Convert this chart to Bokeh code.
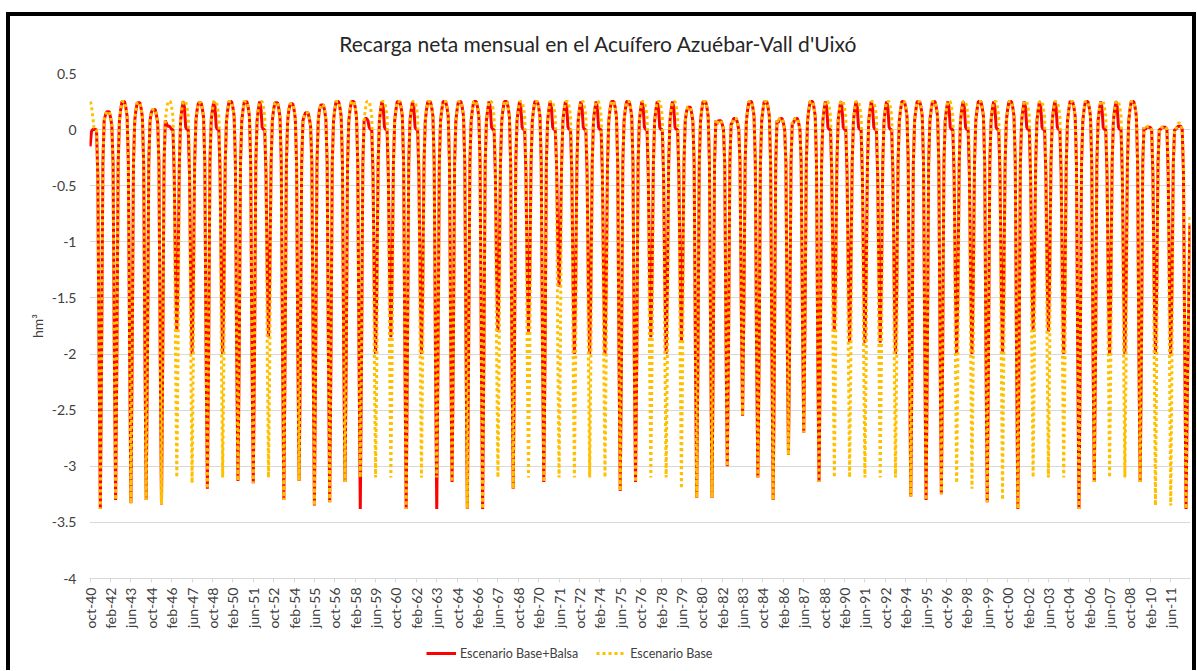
from bokeh.plotting import figure
from bokeh.models import (ColumnDataSource, FixedTicker, Legend, LegendItem,
                          CustomJSTickFormatter, Range1d)
from bokeh.core.properties import value
from bokeh.layouts import column
from bokeh.embed import file_html
from bokeh.resources import INLINE

title_text = "Recarga neta mensual en el Acuífero Azuébar-Vall d'Uixó"
y_label = "hm³"
series_names = ["Escenario Base+Balsa", "Escenario Base"]

tick_labels = ["oct-40", "feb-42", "jun-43", "oct-44", "feb-46", "jun-47", "oct-48", "feb-50",
               "jun-51", "oct-52", "feb-54", "jun-55", "oct-56", "feb-58", "jun-59", "oct-60",
               "feb-62", "jun-63", "oct-64", "feb-66", "jun-67", "oct-68", "feb-70", "jun-71",
               "oct-72", "feb-74", "jun-75", "oct-76", "feb-78", "jun-79", "oct-80", "feb-82",
               "jun-83", "oct-84", "feb-86", "jun-87", "oct-88", "feb-90", "jun-91", "oct-92",
               "feb-94", "jun-95", "oct-96", "feb-98", "jun-99", "oct-00", "feb-02", "jun-03",
               "oct-04", "feb-06", "jun-07", "oct-08", "feb-10", "jun-11"]
tick_step = 16

# monthly values, one row per hydrological year (oct ... sep), hm3
red_rows = [
    [-0.15, -0.02, 0.0, 0.0, 0.0, 0.0, -0.4, -2.0, -3.38, -2.0, -0.3, 0.08],   # 1940-41
    [0.13, 0.16, 0.16, 0.16, 0.11, 0.04, -0.3, -2.0, -3.30, -2.0, -0.3, 0.08],  # 1941-42
    [0.18, 0.25, 0.25, 0.25, 0.20, 0.12, -0.3, -2.0, -3.33, -2.0, -0.3, 0.08],  # 1942-43
    [0.18, 0.24, 0.24, 0.24, 0.19, 0.11, -0.3, -2.0, -3.30, -2.0, -0.3, 0.08],  # 1943-44
    [0.15, 0.18, 0.18, 0.18, 0.13, 0.06, -0.3, -2.0, -3.34, -2.0, -0.3, 0.08],  # 1944-45
    [0.05, 0.03, 0.03, 0.02, 0.0, 0.0, -0.4, -1.3, -1.80, -1.3, -0.3, 0.08],    # 1945-46
    [0.18, 0.25, 0.20, 0.02, 0.0, 0.0, -0.4, -1.4, -2.00, -1.4, -0.3, 0.08],    # 1946-47
    [0.18, 0.24, 0.24, 0.24, 0.19, 0.11, -0.3, -2.0, -3.20, -2.0, -0.3, 0.08],  # 1947-48
    [0.18, 0.25, 0.20, 0.02, 0.0, 0.0, -0.4, -1.4, -2.00, -1.4, -0.3, 0.08],    # 1948-49
    [0.18, 0.25, 0.25, 0.25, 0.20, 0.12, -0.3, -2.0, -3.13, -2.0, -0.3, 0.08],  # 1949-50
    [0.18, 0.25, 0.25, 0.25, 0.20, 0.12, -0.3, -2.0, -3.15, -2.0, -0.3, 0.08],  # 1950-51
    [0.18, 0.25, 0.20, 0.02, 0.0, 0.0, -0.4, -1.3, -1.85, -1.3, -0.3, 0.08],    # 1951-52
    [0.18, 0.24, 0.24, 0.24, 0.19, 0.11, -0.3, -2.0, -3.30, -2.0, -0.3, 0.08],  # 1952-53
    [0.18, 0.23, 0.23, 0.23, 0.18, 0.10, -0.3, -2.0, -3.13, -2.0, -0.3, 0.08],  # 1953-54
    [0.12, 0.15, 0.15, 0.15, 0.10, 0.03, -0.3, -2.0, -3.35, -2.0, -0.3, 0.08],  # 1954-55
    [0.18, 0.22, 0.22, 0.22, 0.17, 0.09, -0.3, -2.0, -3.32, -2.0, -0.3, 0.08],  # 1955-56
    [0.18, 0.25, 0.25, 0.25, 0.20, 0.12, -0.3, -2.0, -3.14, -2.0, -0.3, 0.08],  # 1956-57
    [0.18, 0.25, 0.25, 0.25, 0.20, 0.12, -0.3, -2.0, -3.38, -2.0, -0.3, 0.08],  # 1957-58
    [0.10, 0.10, 0.08, 0.02, 0.0, 0.0, -0.4, -1.4, -2.00, -1.4, -0.3, 0.08],    # 1958-59
    [0.18, 0.25, 0.20, 0.02, 0.0, 0.0, -0.4, -1.3, -1.85, -1.3, -0.3, 0.08],    # 1959-60
    [0.18, 0.25, 0.25, 0.25, 0.20, 0.12, -0.3, -2.0, -3.38, -2.0, -0.3, 0.08],  # 1960-61
    [0.18, 0.25, 0.20, 0.02, 0.0, 0.0, -0.4, -1.4, -2.00, -1.4, -0.3, 0.08],    # 1961-62
    [0.18, 0.25, 0.25, 0.25, 0.20, 0.12, -0.3, -2.0, -3.38, -2.0, -0.3, 0.08],  # 1962-63
    [0.18, 0.25, 0.25, 0.25, 0.20, 0.12, -0.3, -2.0, -3.14, -2.0, -0.3, 0.08],  # 1963-64
    [0.18, 0.25, 0.25, 0.25, 0.20, 0.12, -0.3, -2.0, -3.38, -2.0, -0.3, 0.08],  # 1964-65
    [0.18, 0.25, 0.25, 0.25, 0.20, 0.12, -0.3, -2.0, -3.38, -2.0, -0.3, 0.08],  # 1965-66
    [0.18, 0.25, 0.20, 0.02, 0.0, 0.0, -0.4, -1.3, -1.80, -1.3, -0.3, 0.08],    # 1966-67
    [0.18, 0.25, 0.25, 0.25, 0.20, 0.12, -0.3, -2.0, -3.20, -2.0, -0.3, 0.08],  # 1967-68
    [0.18, 0.25, 0.20, 0.02, 0.0, 0.0, -0.4, -1.3, -1.80, -1.3, -0.3, 0.08],    # 1968-69
    [0.18, 0.25, 0.25, 0.25, 0.20, 0.12, -0.3, -2.0, -3.14, -2.0, -0.3, 0.08],  # 1969-70
    [0.18, 0.25, 0.20, 0.02, 0.0, 0.0, -0.3, -1.0, -1.40, -1.0, -0.3, 0.08],    # 1970-71
    [0.18, 0.25, 0.20, 0.02, 0.0, 0.0, -0.4, -1.4, -2.00, -1.4, -0.3, 0.08],    # 1971-72
    [0.18, 0.25, 0.20, 0.02, 0.0, 0.0, -0.4, -1.4, -2.00, -1.4, -0.3, 0.08],    # 1972-73
    [0.18, 0.25, 0.20, 0.02, 0.0, 0.0, -0.4, -1.4, -2.00, -1.4, -0.3, 0.08],    # 1973-74
    [0.18, 0.25, 0.25, 0.25, 0.20, 0.12, -0.3, -2.0, -3.22, -2.0, -0.3, 0.08],  # 1974-75
    [0.18, 0.25, 0.25, 0.25, 0.20, 0.12, -0.3, -2.0, -3.14, -2.0, -0.3, 0.08],  # 1975-76
    [0.18, 0.25, 0.20, 0.02, 0.0, 0.0, -0.4, -1.3, -1.85, -1.3, -0.3, 0.08],    # 1976-77
    [0.18, 0.25, 0.20, 0.02, 0.0, 0.0, -0.4, -1.4, -2.00, -1.4, -0.3, 0.08],    # 1977-78
    [0.18, 0.25, 0.20, 0.02, 0.0, 0.0, -0.4, -1.3, -1.90, -1.3, -0.3, 0.08],    # 1978-79
    [0.16, 0.20, 0.20, 0.20, 0.15, 0.07, -0.3, -2.0, -3.28, -2.0, -0.3, 0.08],  # 1979-80
    [0.18, 0.25, 0.25, 0.25, 0.20, 0.12, -0.3, -2.0, -3.28, -2.0, -0.3, 0.08],  # 1980-81
    [0.05, 0.08, 0.08, 0.08, 0.05, 0.0, -0.3, -1.9, -3.00, -1.9, -0.3, 0.05],   # 1981-82
    [0.06, 0.10, 0.10, 0.10, 0.06, 0.0, -0.3, -1.6, -2.55, -1.6, -0.3, 0.08],   # 1982-83
    [0.18, 0.25, 0.25, 0.25, 0.20, 0.12, -0.3, -2.0, -3.10, -2.0, -0.3, 0.08],  # 1983-84
    [0.18, 0.25, 0.25, 0.25, 0.20, 0.12, -0.3, -2.0, -3.30, -2.0, -0.3, 0.08],  # 1984-85
    [0.06, 0.10, 0.10, 0.10, 0.06, 0.0, -0.3, -1.8, -2.90, -1.8, -0.3, 0.06],   # 1985-86
    [0.06, 0.10, 0.10, 0.10, 0.06, 0.0, -0.3, -1.7, -2.70, -1.7, -0.3, 0.08],   # 1986-87
    [0.18, 0.25, 0.25, 0.25, 0.20, 0.12, -0.3, -2.0, -3.14, -2.0, -0.3, 0.08],  # 1987-88
    [0.18, 0.25, 0.20, 0.02, 0.0, 0.0, -0.4, -1.3, -1.80, -1.3, -0.3, 0.08],    # 1988-89
    [0.18, 0.25, 0.20, 0.02, 0.0, 0.0, -0.4, -1.3, -1.90, -1.3, -0.3, 0.08],    # 1989-90
    [0.18, 0.25, 0.20, 0.02, 0.0, 0.0, -0.4, -1.3, -1.90, -1.3, -0.3, 0.08],    # 1990-91
    [0.18, 0.25, 0.20, 0.02, 0.0, 0.0, -0.4, -1.3, -1.90, -1.3, -0.3, 0.08],    # 1991-92
    [0.18, 0.25, 0.20, 0.02, 0.0, 0.0, -0.4, -1.4, -2.00, -1.4, -0.3, 0.08],    # 1992-93
    [0.18, 0.25, 0.25, 0.25, 0.20, 0.12, -0.3, -2.0, -3.27, -2.0, -0.3, 0.08],  # 1993-94
    [0.18, 0.25, 0.25, 0.25, 0.20, 0.12, -0.3, -2.0, -3.30, -2.0, -0.3, 0.08],  # 1994-95
    [0.18, 0.25, 0.25, 0.25, 0.20, 0.12, -0.3, -2.0, -3.25, -2.0, -0.3, 0.08],  # 1995-96
    [0.18, 0.25, 0.20, 0.02, 0.0, 0.0, -0.4, -1.4, -2.00, -1.4, -0.3, 0.08],    # 1996-97
    [0.18, 0.25, 0.20, 0.02, 0.0, 0.0, -0.4, -1.4, -2.00, -1.4, -0.3, 0.08],    # 1997-98
    [0.18, 0.25, 0.25, 0.25, 0.20, 0.12, -0.3, -2.0, -3.32, -2.0, -0.3, 0.08],  # 1998-99
    [0.18, 0.25, 0.20, 0.02, 0.0, 0.0, -0.4, -1.4, -2.00, -1.4, -0.3, 0.08],    # 1999-00
    [0.18, 0.25, 0.25, 0.25, 0.20, 0.12, -0.3, -2.0, -3.38, -2.0, -0.3, 0.08],  # 2000-01
    [0.18, 0.25, 0.20, 0.02, 0.0, 0.0, -0.4, -1.3, -1.80, -1.3, -0.3, 0.08],    # 2001-02
    [0.18, 0.25, 0.20, 0.02, 0.0, 0.0, -0.4, -1.3, -1.80, -1.3, -0.3, 0.08],    # 2002-03
    [0.18, 0.25, 0.20, 0.02, 0.0, 0.0, -0.4, -1.4, -2.00, -1.4, -0.3, 0.08],    # 2003-04
    [0.18, 0.25, 0.25, 0.25, 0.20, 0.12, -0.3, -2.0, -3.38, -2.0, -0.3, 0.08],  # 2004-05
    [0.18, 0.25, 0.25, 0.25, 0.20, 0.12, -0.3, -2.0, -3.14, -2.0, -0.3, 0.08],  # 2005-06
    [0.18, 0.25, 0.20, 0.02, 0.0, 0.0, -0.4, -1.4, -2.00, -1.4, -0.3, 0.08],    # 2006-07
    [0.18, 0.25, 0.20, 0.02, 0.0, 0.0, -0.4, -1.4, -2.00, -1.4, -0.3, 0.08],    # 2007-08
    [0.18, 0.25, 0.25, 0.25, 0.20, 0.12, -0.3, -2.0, -3.14, -2.0, -0.3, 0.02],  # 2008-09
    [0.0, 0.02, 0.02, 0.02, 0.02, 0.0, -0.4, -1.4, -2.00, -1.4, -0.3, 0.0],     # 2009-10
    [0.0, 0.02, 0.02, 0.02, 0.02, 0.0, -0.4, -1.4, -2.00, -1.4, -0.3, 0.0],     # 2010-11
    [0.0, 0.02, 0.03, 0.03, 0.03, 0.0, -0.4, -2.0, -3.38, -2.4, -1.6, -0.85],   # 2011-12
]

base_rows = [
    [0.25, 0.22, 0.12, 0.02, 0.0, 0.0, -0.4, -2.0, -3.38, -2.0, -0.3, 0.08],   # 1940-41
    [0.13, 0.16, 0.16, 0.16, 0.11, 0.04, -0.3, -2.0, -3.30, -2.0, -0.3, 0.08],  # 1941-42
    [0.18, 0.25, 0.25, 0.25, 0.20, 0.12, -0.3, -2.0, -3.33, -2.0, -0.3, 0.08],  # 1942-43
    [0.18, 0.24, 0.24, 0.24, 0.19, 0.11, -0.3, -2.0, -3.30, -2.0, -0.3, 0.08],  # 1943-44
    [0.15, 0.18, 0.18, 0.18, 0.13, 0.06, -0.3, -2.0, -3.34, -2.0, -0.3, 0.08],  # 1944-45
    [0.18, 0.25, 0.25, 0.25, 0.20, 0.12, -0.3, -2.0, -3.10, -2.0, -0.3, 0.08],  # 1945-46
    [0.18, 0.25, 0.25, 0.25, 0.20, 0.12, -0.3, -2.0, -3.15, -2.0, -0.3, 0.08],  # 1946-47
    [0.18, 0.24, 0.24, 0.24, 0.19, 0.11, -0.3, -2.0, -3.20, -2.0, -0.3, 0.08],  # 1947-48
    [0.18, 0.25, 0.25, 0.25, 0.20, 0.12, -0.3, -2.0, -3.10, -2.0, -0.3, 0.08],  # 1948-49
    [0.18, 0.25, 0.25, 0.25, 0.20, 0.12, -0.3, -2.0, -3.13, -2.0, -0.3, 0.08],  # 1949-50
    [0.18, 0.25, 0.25, 0.25, 0.20, 0.12, -0.3, -2.0, -3.15, -2.0, -0.3, 0.08],  # 1950-51
    [0.18, 0.25, 0.25, 0.25, 0.20, 0.12, -0.3, -2.0, -3.10, -2.0, -0.3, 0.08],  # 1951-52
    [0.18, 0.24, 0.24, 0.24, 0.19, 0.11, -0.3, -2.0, -3.30, -2.0, -0.3, 0.08],  # 1952-53
    [0.18, 0.23, 0.23, 0.23, 0.18, 0.10, -0.3, -2.0, -3.13, -2.0, -0.3, 0.08],  # 1953-54
    [0.12, 0.15, 0.15, 0.15, 0.10, 0.03, -0.3, -2.0, -3.35, -2.0, -0.3, 0.08],  # 1954-55
    [0.18, 0.22, 0.22, 0.22, 0.17, 0.09, -0.3, -2.0, -3.32, -2.0, -0.3, 0.08],  # 1955-56
    [0.18, 0.25, 0.25, 0.25, 0.20, 0.12, -0.3, -2.0, -3.14, -2.0, -0.3, 0.08],  # 1956-57
    [0.18, 0.25, 0.25, 0.25, 0.20, 0.12, -0.3, -2.0, -3.10, -2.0, -0.3, 0.08],  # 1957-58
    [0.18, 0.25, 0.25, 0.25, 0.20, 0.12, -0.3, -2.0, -3.10, -2.0, -0.3, 0.08],  # 1958-59
    [0.18, 0.25, 0.25, 0.25, 0.20, 0.12, -0.3, -2.0, -3.10, -2.0, -0.3, 0.08],  # 1959-60
    [0.18, 0.25, 0.25, 0.25, 0.20, 0.12, -0.3, -2.0, -3.38, -2.0, -0.3, 0.08],  # 1960-61
    [0.18, 0.25, 0.25, 0.25, 0.20, 0.12, -0.3, -2.0, -3.10, -2.0, -0.3, 0.08],  # 1961-62
    [0.18, 0.25, 0.25, 0.25, 0.20, 0.12, -0.3, -2.0, -3.10, -2.0, -0.3, 0.08],  # 1962-63
    [0.18, 0.25, 0.25, 0.25, 0.20, 0.12, -0.3, -2.0, -3.14, -2.0, -0.3, 0.08],  # 1963-64
    [0.18, 0.25, 0.25, 0.25, 0.20, 0.12, -0.3, -2.0, -3.38, -2.0, -0.3, 0.08],  # 1964-65
    [0.18, 0.25, 0.25, 0.25, 0.20, 0.12, -0.3, -2.0, -3.38, -2.0, -0.3, 0.08],  # 1965-66
    [0.18, 0.25, 0.25, 0.25, 0.20, 0.12, -0.3, -2.0, -3.10, -2.0, -0.3, 0.08],  # 1966-67
    [0.18, 0.25, 0.25, 0.25, 0.20, 0.12, -0.3, -2.0, -3.20, -2.0, -0.3, 0.08],  # 1967-68
    [0.18, 0.25, 0.25, 0.25, 0.20, 0.12, -0.3, -2.0, -3.10, -2.0, -0.3, 0.08],  # 1968-69
    [0.18, 0.25, 0.25, 0.25, 0.20, 0.12, -0.3, -2.0, -3.14, -2.0, -0.3, 0.08],  # 1969-70
    [0.18, 0.25, 0.25, 0.25, 0.20, 0.12, -0.3, -2.0, -3.10, -2.0, -0.3, 0.08],  # 1970-71
    [0.18, 0.25, 0.25, 0.25, 0.20, 0.12, -0.3, -2.0, -3.10, -2.0, -0.3, 0.08],  # 1971-72
    [0.18, 0.25, 0.25, 0.25, 0.20, 0.12, -0.3, -2.0, -3.10, -2.0, -0.3, 0.08],  # 1972-73
    [0.18, 0.25, 0.25, 0.25, 0.20, 0.12, -0.3, -2.0, -3.10, -2.0, -0.3, 0.08],  # 1973-74
    [0.18, 0.25, 0.25, 0.25, 0.20, 0.12, -0.3, -2.0, -3.22, -2.0, -0.3, 0.08],  # 1974-75
    [0.18, 0.25, 0.25, 0.25, 0.20, 0.12, -0.3, -2.0, -3.14, -2.0, -0.3, 0.08],  # 1975-76
    [0.18, 0.25, 0.25, 0.25, 0.20, 0.12, -0.3, -2.0, -3.10, -2.0, -0.3, 0.08],  # 1976-77
    [0.18, 0.25, 0.25, 0.25, 0.20, 0.12, -0.3, -2.0, -3.10, -2.0, -0.3, 0.08],  # 1977-78
    [0.18, 0.25, 0.25, 0.25, 0.20, 0.12, -0.3, -2.0, -3.20, -2.0, -0.3, 0.08],  # 1978-79
    [0.16, 0.20, 0.20, 0.20, 0.15, 0.07, -0.3, -2.0, -3.28, -2.0, -0.3, 0.08],  # 1979-80
    [0.18, 0.25, 0.25, 0.25, 0.20, 0.12, -0.3, -2.0, -3.28, -2.0, -0.3, 0.08],  # 1980-81
    [0.05, 0.08, 0.08, 0.08, 0.05, 0.0, -0.3, -1.9, -3.00, -1.9, -0.3, 0.05],   # 1981-82
    [0.06, 0.10, 0.10, 0.10, 0.06, 0.0, -0.3, -1.6, -2.55, -1.6, -0.3, 0.08],   # 1982-83
    [0.18, 0.25, 0.25, 0.25, 0.20, 0.12, -0.3, -2.0, -3.10, -2.0, -0.3, 0.08],  # 1983-84
    [0.18, 0.25, 0.25, 0.25, 0.20, 0.12, -0.3, -2.0, -3.30, -2.0, -0.3, 0.08],  # 1984-85
    [0.06, 0.10, 0.10, 0.10, 0.06, 0.0, -0.3, -1.8, -2.90, -1.8, -0.3, 0.06],   # 1985-86
    [0.06, 0.10, 0.10, 0.10, 0.06, 0.0, -0.3, -1.7, -2.70, -1.7, -0.3, 0.08],   # 1986-87
    [0.18, 0.25, 0.25, 0.25, 0.20, 0.12, -0.3, -2.0, -3.14, -2.0, -0.3, 0.08],  # 1987-88
    [0.18, 0.25, 0.25, 0.25, 0.20, 0.12, -0.3, -2.0, -3.10, -2.0, -0.3, 0.08],  # 1988-89
    [0.18, 0.25, 0.25, 0.25, 0.20, 0.12, -0.3, -2.0, -3.10, -2.0, -0.3, 0.08],  # 1989-90
    [0.18, 0.25, 0.25, 0.25, 0.20, 0.12, -0.3, -2.0, -3.10, -2.0, -0.3, 0.08],  # 1990-91
    [0.18, 0.25, 0.25, 0.25, 0.20, 0.12, -0.3, -2.0, -3.10, -2.0, -0.3, 0.08],  # 1991-92
    [0.18, 0.25, 0.25, 0.25, 0.20, 0.12, -0.3, -2.0, -3.10, -2.0, -0.3, 0.08],  # 1992-93
    [0.18, 0.25, 0.25, 0.25, 0.20, 0.12, -0.3, -2.0, -3.27, -2.0, -0.3, 0.08],  # 1993-94
    [0.18, 0.25, 0.25, 0.25, 0.20, 0.12, -0.3, -2.0, -3.30, -2.0, -0.3, 0.08],  # 1994-95
    [0.18, 0.25, 0.25, 0.25, 0.20, 0.12, -0.3, -2.0, -3.25, -2.0, -0.3, 0.08],  # 1995-96
    [0.18, 0.25, 0.25, 0.25, 0.20, 0.12, -0.3, -2.0, -3.15, -2.0, -0.3, 0.08],  # 1996-97
    [0.18, 0.25, 0.25, 0.25, 0.20, 0.12, -0.3, -2.0, -3.20, -2.0, -0.3, 0.08],  # 1997-98
    [0.18, 0.25, 0.25, 0.25, 0.20, 0.12, -0.3, -2.0, -3.32, -2.0, -0.3, 0.08],  # 1998-99
    [0.18, 0.25, 0.25, 0.25, 0.20, 0.12, -0.3, -2.0, -3.30, -2.0, -0.3, 0.08],  # 1999-00
    [0.18, 0.25, 0.25, 0.25, 0.20, 0.12, -0.3, -2.0, -3.38, -2.0, -0.3, 0.08],  # 2000-01
    [0.18, 0.25, 0.25, 0.25, 0.20, 0.12, -0.3, -2.0, -3.10, -2.0, -0.3, 0.08],  # 2001-02
    [0.18, 0.25, 0.25, 0.25, 0.20, 0.12, -0.3, -2.0, -3.10, -2.0, -0.3, 0.08],  # 2002-03
    [0.18, 0.25, 0.25, 0.25, 0.20, 0.12, -0.3, -2.0, -3.10, -2.0, -0.3, 0.08],  # 2003-04
    [0.18, 0.25, 0.25, 0.25, 0.20, 0.12, -0.3, -2.0, -3.38, -2.0, -0.3, 0.08],  # 2004-05
    [0.18, 0.25, 0.25, 0.25, 0.20, 0.12, -0.3, -2.0, -3.14, -2.0, -0.3, 0.08],  # 2005-06
    [0.18, 0.25, 0.25, 0.25, 0.20, 0.12, -0.3, -2.0, -3.10, -2.0, -0.3, 0.08],  # 2006-07
    [0.18, 0.25, 0.25, 0.25, 0.20, 0.12, -0.3, -2.0, -3.10, -2.0, -0.3, 0.08],  # 2007-08
    [0.18, 0.25, 0.25, 0.25, 0.20, 0.12, -0.3, -2.0, -3.14, -2.0, -0.3, 0.02],  # 2008-09
    [0.0, 0.02, 0.03, 0.03, 0.02, 0.0, -0.3, -2.0, -3.35, -2.0, -0.3, 0.0],     # 2009-10
    [0.0, 0.02, 0.03, 0.03, 0.02, 0.0, -0.3, -2.0, -3.35, -2.0, -0.3, 0.0],     # 2010-11
    [0.0, 0.04, 0.06, 0.06, 0.04, 0.0, -0.3, -2.0, -3.38, -2.3, -1.5, -0.75],   # 2011-12
]

red = [v for row in red_rows for v in row]
base = [v for row in base_rows for v in row]
month_idx = list(range(len(red)))

src = ColumnDataSource(dict(x=month_idx, red=red, base=base))

FONT = "Lato"
TXT = "#404040"
RED = "#FF0000"
GOLD = "#FFC000"

W = 1182
BL, BR = 79, 2          # frame borders shared by the stacked strips
FW = W - BL - BR        # frame width
H_TOP, H_MAIN, H_LEG = 47, 573, 34

# title strip
top = figure(width=W, height=H_TOP, output_backend="svg", toolbar_location=None,
             x_range=Range1d(0, FW), y_range=Range1d(0, H_TOP), min_border=0,
             x_axis_type=None, y_axis_type=None)
top.outline_line_color = None
top.grid.grid_line_color = None
top.text(x=[588 - BL], y=[20], text=[title_text], text_font=value(FONT),
         text_font_size="21px", text_align="center", text_baseline="middle",
         text_color="#262626")

# main chart
p = figure(width=W, height=H_MAIN, output_backend="svg", toolbar_location=None,
           x_range=Range1d(-0.5, len(red) - 0.5), y_range=Range1d(-4, 0.5),
           min_border_left=BL, min_border_right=BR, min_border_top=10, min_border_bottom=58)
p.outline_line_color = None
p.background_fill_color = "white"
p.border_fill_color = "white"

r1 = p.line("x", "red", source=src, line_color=RED, line_width=3)
r2 = p.line("x", "base", source=src, line_color=GOLD, line_width=3, line_dash="3 3")

p.xgrid.grid_line_color = None
p.ygrid.grid_line_color = "#d9d9d9"
p.ygrid.grid_line_width = 1
p.yaxis.ticker = FixedTicker(ticks=[0.5, 0, -0.5, -1, -1.5, -2, -2.5, -3, -3.5, -4])
p.yaxis.formatter = CustomJSTickFormatter(code="return tick.toString();")
p.yaxis.axis_line_color = None
p.yaxis.major_tick_line_color = None
p.yaxis.minor_tick_line_color = None
p.yaxis.major_label_text_font = FONT
p.yaxis.major_label_text_font_size = "14px"
p.yaxis.major_label_text_color = TXT
p.yaxis.major_label_standoff = 7
p.yaxis.axis_label = y_label
p.yaxis.axis_label_text_font = FONT
p.yaxis.axis_label_text_font_size = "14px"
p.yaxis.axis_label_text_font_style = "normal"
p.yaxis.axis_label_text_color = TXT
p.yaxis.axis_label_standoff = 3

ticks = [i * tick_step for i in range(len(tick_labels))]
p.xaxis.ticker = FixedTicker(ticks=ticks)
p.xaxis.major_label_overrides = {t: lab for t, lab in zip(ticks, tick_labels)}
p.xaxis.major_label_orientation = 3.14159265 / 2
p.xaxis.major_label_text_font = FONT
p.xaxis.major_label_text_font_size = "14px"
p.xaxis.major_label_text_color = TXT
p.xaxis.major_label_standoff = 5
p.xaxis.axis_line_color = "#d9d9d9"
p.xaxis.major_tick_line_color = "#d9d9d9"
p.xaxis.major_tick_in = 0
p.xaxis.major_tick_out = 4
p.xaxis.minor_tick_line_color = None

# legend strip under the chart
leg = figure(width=W, height=H_LEG, output_backend="svg", toolbar_location=None,
             x_range=Range1d(0, FW), y_range=Range1d(0, H_LEG), min_border=0,
             x_axis_type=None, y_axis_type=None)
leg.outline_line_color = None
leg.grid.grid_line_color = None
l1 = leg.line(x=[-60, -50], y=[-60, -60], line_color=RED, line_width=3)
l2 = leg.line(x=[-60, -50], y=[-60, -60], line_color=GOLD, line_width=3, line_dash="3 3")
legend = Legend(items=[LegendItem(label=series_names[0], renderers=[l1]),
                       LegendItem(label=series_names[1], renderers=[l2])],
                orientation="horizontal", location=(416 - BL, 8),
                glyph_width=30, glyph_height=18, label_standoff=4, spacing=18,
                padding=0, margin=0, border_line_color=None, background_fill_alpha=0,
                label_text_font=FONT, label_text_font_size="12.5px", label_text_color=TXT)
leg.add_layout(legend)

layout = column(top, p, leg, spacing=0,
                styles={"border-left": "4px solid black", "border-top": "4px solid black",
                        "border-right": "4px solid black", "margin-top": "12px",
                        "margin-left": "6px", "box-sizing": "content-box"})

open("out.html", "w").write(file_html(layout, INLINE))
